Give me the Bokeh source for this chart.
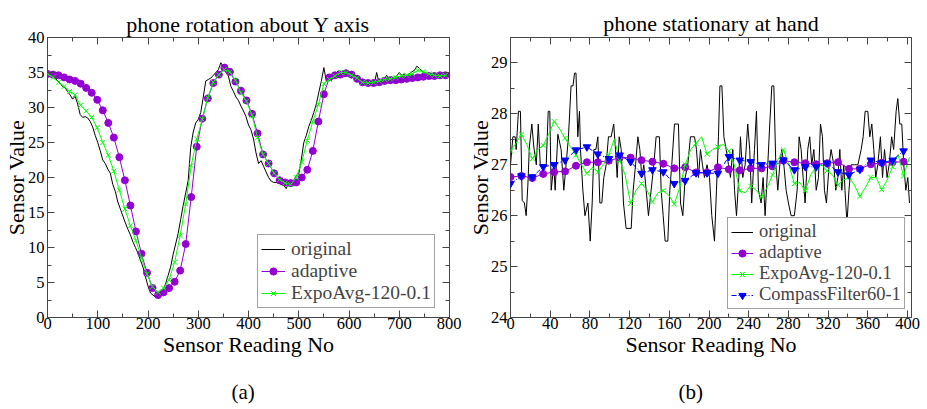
from bokeh.plotting import figure
from bokeh.layouts import row
from bokeh.models import (LinearAxis, SingleIntervalTicker, Range1d, Legend, LegendItem,
                          Title, CustomJSTickFormatter)
from bokeh.embed import file_html
from bokeh.resources import INLINE

FONT = "Liberation Serif"

# ---------------- panel (a): phone rotation about Y axis ----------------
a_orig_x = [0, 5, 10, 15, 20, 25, 30, 35, 40, 45, 50, 55, 60, 65, 70, 75, 80, 85, 90, 95,
            100, 105, 110, 115, 120, 125, 130, 135, 140, 145, 150, 155, 160, 165, 170, 175, 180, 185, 190, 195,
            200, 205, 210, 215, 220, 225, 230, 235, 240, 245, 250, 255, 260, 265, 270, 275, 280, 285, 290, 295,
            300, 305, 310, 315, 320, 325, 330, 335, 340, 345, 350, 355, 360, 365, 370, 375, 380, 385, 390, 395,
            400, 405, 410, 415, 420, 425, 430, 435, 440, 445, 450, 455, 460, 465, 470, 475, 480, 485, 490, 495,
            500, 505, 510, 515, 520, 525, 530, 535, 540, 545, 550, 555, 560, 565, 570, 575, 580, 585, 590, 595,
            600, 605, 610, 615, 620, 625, 630, 635, 640, 645, 650, 655, 660, 665, 670, 675, 680, 685, 690, 695,
            700, 705, 710, 715, 720, 725, 730, 735, 740, 745, 750, 755, 760, 765, 770, 775, 780, 785, 790, 795, 800]
a_orig_y = [35.0, 34.9, 34.8, 34.3, 33.8, 33.5, 33.0, 32.8, 32.3, 31.8, 31.2, 31.6, 30.5, 29.0, 28.6, 28.7, 28.5, 28.0, 27.2, 26.0,
            25.0, 23.8, 22.5, 22.0, 21.2, 20.6, 19.0, 18.0, 16.5, 15.5, 14.5, 13.5, 12.6, 11.8, 10.8, 10.0, 9.2, 8.2, 7.2, 5.8,
            4.5, 3.5, 3.2, 2.9, 3.2, 3.5, 4.0, 4.8, 6.0, 7.2, 9.0, 10.5, 12.0, 14.0, 16.0, 17.8, 19.6, 24.3, 26.5, 27.8,
            28.3, 29.3, 31.5, 33.8, 34.0, 34.2, 34.6, 35.0, 35.4, 36.4, 35.8, 35.0, 34.5, 33.0, 32.3, 31.5, 31.0, 30.2, 29.5, 28.7,
            27.5, 26.8, 25.5, 23.5, 22.0, 22.4, 21.6, 20.8, 20.0, 19.5, 19.3, 19.3, 19.2, 19.0, 18.9, 18.4, 19.3, 19.1, 19.5, 20.3,
            20.5, 22.5, 25.0, 26.0, 27.3, 28.2, 29.3, 30.5, 32.2, 33.8, 35.7, 33.7, 34.0, 34.5, 34.3, 35.0, 35.3, 34.8, 35.2, 34.6,
            34.8, 34.2, 34.5, 34.0, 33.8, 33.5, 33.4, 33.3, 33.5, 33.3, 33.2, 35.0, 33.5, 33.8, 34.0, 34.6, 34.1, 34.4, 34.0, 34.5,
            35.0, 34.6, 34.8, 34.4, 34.8, 35.1, 35.3, 35.9, 35.6, 35.2, 35.0, 34.7, 34.4, 34.2, 34.5, 34.1, 34.8, 34.4, 34.7, 34.6, 35.0]

a_filt_x = [0, 11, 22, 33, 44, 55, 66, 77, 88, 99, 110, 121, 132, 143, 154, 165, 176, 187, 198, 209,
            220, 231, 242, 253, 264, 275, 286, 297, 308, 319, 330, 341, 352, 363, 374, 385, 396, 407, 418, 429,
            440, 451, 462, 473, 484, 495, 506, 517, 528, 539, 550, 561, 572, 583, 594, 605, 616, 627, 638, 649,
            660, 671, 682, 693, 704, 715, 726, 737, 748, 759, 770, 781, 792]
a_adaptive = [34.8, 34.7, 34.6, 34.3, 34.0, 33.8, 33.4, 32.8, 32.1, 31.1, 29.6, 27.8, 25.7, 22.9, 19.6, 16.0, 12.3, 9.1, 6.4, 4.2,
              3.2, 3.6, 4.2, 5.1, 6.7, 10.5, 17.2, 24.4, 28.4, 31.3, 33.5, 34.7, 35.7, 35.1, 33.7, 32.4, 31.0, 29.1, 26.3, 23.3,
              22.0, 20.6, 19.6, 19.3, 19.2, 19.3, 20.0, 21.1, 23.8, 28.0, 31.9, 34.3, 34.6, 34.7, 34.9, 34.7, 34.1, 33.6, 33.5, 33.5,
              33.6, 33.8, 33.9, 33.9, 34.0, 34.1, 34.2, 34.3, 34.4, 34.5, 34.5, 34.6, 34.6]
a_expo = [34.8, 34.3, 33.6, 33.0, 32.3, 31.8, 30.3, 29.5, 28.6, 27.1, 25.0, 23.2, 20.9, 18.2, 15.5, 13.1, 11.0, 8.5, 6.2, 4.4,
          3.6, 4.2, 5.4, 7.9, 11.7, 16.2, 21.7, 25.5, 28.3, 31.4, 33.6, 34.7, 35.4, 35.1, 33.9, 32.1, 30.9, 28.9, 25.7, 23.3,
          22.0, 20.6, 19.7, 19.2, 19.0, 20.0, 22.2, 25.3, 28.0, 30.4, 33.4, 34.0, 34.5, 35.0, 35.0, 34.6, 34.2, 33.6, 33.5, 33.6,
          33.8, 34.0, 34.1, 34.3, 34.5, 34.6, 34.8, 35.3, 35.1, 34.8, 34.6, 34.5, 34.6]

# ---------------- panel (b): phone stationary at hand ----------------
b_orig_x = [0, 2.4, 4.7, 5.7, 8, 10, 11.8, 14, 15.8, 17.5, 19, 21.5, 23.5, 26, 28, 30, 32.5, 36, 38, 39.6,
            41, 43.6, 45, 47.7, 51, 53.7, 56, 58.4, 61, 63, 64.5, 66, 67.8, 69.5, 70.5, 72.9, 75, 78, 80.3, 82.3,
            84, 86, 88, 90, 92, 94, 96.4, 98.7, 101.4, 104, 105.8, 107.5, 109.5, 111.5, 113.8, 116.5, 121.6, 123.6, 126, 128.3,
            130.3, 132.3, 134.3, 136.7, 139, 141.7, 144.4, 146.7, 150, 151.8, 153.8, 155.8, 158.5, 160.5, 162.5, 165.2, 169.2, 171.3, 173.6, 176,
            178.6, 181.3, 185.4, 187.4, 189.4, 191.4, 193.4, 195.4, 198, 200.5, 202.8, 205.5, 207.5, 209.5, 211, 213, 215, 217.3, 219.6, 221.6,
            224, 225.7, 227.7, 230, 231.7, 234, 236.4, 239, 241, 243, 245.8, 247.8, 249.8, 252.5, 254.5, 256.5, 259.2, 261.2, 263.3, 265.3,
            267.3, 269.3, 271.3, 273.3, 275.4, 277.7, 280, 282.7, 286, 288.8, 290.8, 292.8, 294.8, 296.8, 299.5, 301.5, 303.5, 305.6, 308, 310.3,
            312.3, 314.3, 316.3, 318.3, 321, 323, 325.7, 327.7, 329.8, 331.8, 333.8, 335.8, 337, 339, 341, 343.2, 346.5, 350, 353.3, 355.3,
            357.3, 360, 362, 364, 366, 368, 370, 372.7, 374.8, 376.8, 379.4, 381.5, 384, 386, 388.5, 390.2, 392.2, 394.2, 396.2, 398.3,
            400.3, 402]
b_orig_y = [27.0, 27.55, 27.55, 27.3, 28.05, 28.05, 26.3, 26.25, 26.0, 26.6, 27.35, 27.8, 27.35, 27.0, 27.8, 27.0, 27.0, 27.0, 28.05, 28.05,
            26.5, 27.0, 26.5, 27.6, 27.3, 26.5, 27.0, 27.55, 28.55, 28.55, 28.8, 28.8, 27.55, 28.05, 27.3, 26.5, 26.0, 26.25, 25.5, 26.25,
            27.3, 27.3, 27.55, 26.25, 26.25, 26.75, 27.0, 27.55, 27.55, 27.8, 27.3, 26.75, 27.55, 27.3, 26.25, 25.75, 25.75, 26.5, 27.0, 27.55,
            27.3, 26.75, 27.0, 26.5, 26.0, 26.5, 27.0, 27.55, 27.55, 26.5, 26.0, 25.5, 25.5, 26.5, 27.0, 27.8, 27.8, 26.25, 26.0, 26.75,
            27.0, 27.55, 27.55, 27.3, 26.75, 27.3, 27.0, 26.75, 27.0, 26.75, 26.0, 25.5, 26.5, 27.55, 28.55, 28.55, 27.55, 27.3, 27.0, 26.75,
            27.3, 26.5, 26.0, 26.75, 27.55, 26.75, 27.0, 27.8, 27.3, 26.25, 27.3, 28.05, 26.5, 26.25, 26.75, 26.0, 27.0, 27.8, 28.55, 28.55,
            27.0, 26.5, 27.0, 27.3, 27.0, 26.5, 26.25, 26.0, 26.0, 26.5, 27.55, 27.3, 26.75, 26.25, 27.3, 27.55, 27.0, 27.3, 26.5, 26.75,
            27.8, 27.55, 26.5, 26.25, 27.0, 27.3, 27.0, 26.5, 26.75, 27.3, 26.5, 27.0, 26.5, 25.85, 26.5, 27.0, 27.0, 27.0, 27.3, 27.55,
            28.05, 28.05, 27.55, 27.8, 27.3, 26.75, 27.0, 27.55, 26.75, 27.3, 26.75, 27.0, 27.55, 27.3, 28.05, 28.3, 27.8, 27.8, 27.0, 26.5,
            26.75, 26.25]

b_filt_x = [0, 11, 22, 33, 44, 55, 66, 77, 88, 99, 110, 121, 132, 143, 154, 165, 176, 187, 198, 209,
            220, 231, 242, 253, 264, 275, 286, 297, 308, 319, 330, 341, 352, 363, 374, 385, 396]
b_adaptive = [26.76, 26.78, 26.74, 26.82, 26.86, 26.87, 26.98, 27.05, 27.05, 27.08, 27.14, 27.14, 27.09, 27.06, 27.02, 26.93, 26.95, 26.85, 26.85, 26.95,
              26.91, 26.89, 26.93, 26.93, 26.97, 27.08, 27.05, 27.03, 27.01, 27.03, 27.05, 26.92, 26.92, 27.01, 27.04, 27.05, 27.06]
b_compass = [26.63, 26.78, 26.76, 26.96, 27.0, 27.09, 27.29, 27.35, 27.21, 27.12, 27.19, 27.06, 26.83, 26.9, 26.86, 26.63, 26.69, 26.84, 26.84, 26.83,
             27.16, 27.09, 27.06, 27.0, 27.03, 27.09, 26.9, 26.96, 26.96, 27.03, 26.86, 26.8, 26.91, 27.09, 27.04, 27.09, 27.27]
# ExpoAvg line (markers on every other point)
b_expo_x = [0, 5.5, 11, 16.5, 22, 27.5, 33, 38.5, 44, 49.5, 55, 60.5, 66, 71.5, 77, 82.5, 88, 93.5, 99, 104.5,
            110, 115.5, 121, 126.5, 132, 137.5, 143, 148.5, 154, 159.5, 165, 170.5, 176, 181.5, 187, 192.5, 198, 203.5, 209, 214.5,
            220, 225.5, 231, 236.5, 242, 247.5, 253, 258.5, 264, 269.5, 275, 280.5, 286, 291.5, 297, 302.5, 308, 313.5, 319, 324.5,
            330, 335.5, 341, 346.5, 352, 357.5, 363, 368.5, 374, 379.5, 385, 390.5, 396, 402]
b_expo = [27.27, 27.42, 27.6, 27.4, 27.12, 27.3, 27.38, 27.6, 27.85, 27.7, 27.52, 27.35, 27.19, 27.0, 26.83, 26.95, 26.86, 27.0, 27.19, 27.5,
          27.09, 26.8, 26.24, 26.5, 26.63, 26.5, 26.27, 26.45, 26.49, 26.4, 26.23, 26.55, 27.0, 27.3, 27.42, 27.55, 27.21, 27.3, 27.35, 27.4,
          27.27, 27.0, 26.49, 26.45, 26.58, 26.5, 26.37, 26.55, 26.8, 27.1, 27.29, 27.0, 26.63, 26.65, 26.49, 26.8, 26.96, 27.0, 26.88, 26.8,
          26.6, 26.7, 26.76, 26.6, 26.38, 26.55, 26.75, 26.75, 26.51, 26.7, 26.96, 27.2, 26.78, 27.15]

labels_a = ["original", "adaptive", "ExpoAvg-120-0.1"]
labels_b = ["original", "adaptive", "ExpoAvg-120-0.1", "CompassFilter60-1"]
titles = ["phone rotation about Y axis", "phone stationary at hand"]
panel_tags = ["(a)", "(b)"]

VIOLET = "#9400d3"
GREEN = "#00ff00"
BLUE = "#0000ff"
FRAME = "#444444"


def style_axes(p, xint, yint):
    p.xgrid.visible = False
    p.ygrid.visible = False
    p.outline_line_color = FRAME
    p.outline_line_width = 1
    p.background_fill_color = "white"
    p.border_fill_color = "white"
    for ax in (p.xaxis[0], p.yaxis[0]):
        ax.axis_line_color = None
        ax.major_tick_in = 7
        ax.major_tick_out = 0
        ax.minor_tick_in = 4
        ax.minor_tick_out = 0
        ax.major_tick_line_color = FRAME
        ax.minor_tick_line_color = FRAME
        ax.major_label_text_font = FONT
        ax.major_label_text_font_size = "16.5px"
        ax.major_label_text_color = "black"
        ax.axis_label_text_font = FONT
        ax.axis_label_text_font_size = "22px"
        ax.axis_label_text_font_style = "normal"
        ax.axis_label_text_color = "black"
    p.xaxis[0].ticker = SingleIntervalTicker(interval=xint, num_minor_ticks=2)
    p.yaxis[0].ticker = SingleIntervalTicker(interval=yint, num_minor_ticks=2)
    p.xaxis[0].axis_label = "Sensor Reading No"
    p.yaxis[0].axis_label = "Sensor Value"
    p.xaxis[0].major_label_standoff = 0
    p.xaxis[0].axis_label_standoff = 0
    p.xaxis[0].axis_label_text_line_height = 0.5
    for place, interval in (("above", xint), ("right", yint)):
        ax = LinearAxis(ticker=SingleIntervalTicker(interval=interval, num_minor_ticks=2),
                        formatter=CustomJSTickFormatter(code="return ''"),
                        axis_line_color=None, major_tick_in=7, major_tick_out=0,
                        minor_tick_in=4, minor_tick_out=0,
                        major_tick_line_color=FRAME, minor_tick_line_color=FRAME,
                        major_label_text_font_size="1px", major_label_standoff=0)
        p.add_layout(ax, place)


def add_titles(p, xint, title, tag, title_standoff, tag_offset, gap, tag_standoff):
    p.add_layout(Title(text=title, align="center", text_font=FONT, text_font_size="22px",
                       text_font_style="normal", text_color="black", standoff=title_standoff), "above")
    # invisible spacer between the x axis and the panel tag
    spacer = LinearAxis(ticker=SingleIntervalTicker(interval=xint, num_minor_ticks=0),
                        formatter=CustomJSTickFormatter(code="return ''"),
                        axis_line_color=None, major_tick_in=0, major_tick_out=gap,
                        minor_tick_in=0, minor_tick_out=0,
                        major_tick_line_color=None, minor_tick_line_color=None,
                        major_label_text_font_size="1px", major_label_standoff=0)
    p.add_layout(spacer, "below")
    p.add_layout(Title(text=tag, align="left", offset=tag_offset, text_font=FONT, text_font_size="21px",
                       text_font_style="normal", text_color="black", standoff=tag_standoff), "below")


def make_legend(items, loc, fsize, gw):
    lg = Legend(items=items, location=loc)
    lg.label_text_font = FONT
    lg.label_text_font_size = fsize
    lg.glyph_width = gw
    lg.glyph_height = 18
    lg.label_height = 18
    lg.label_standoff = 6
    lg.spacing = 0
    lg.padding = 3
    lg.margin = 0
    lg.border_line_color = FRAME
    lg.border_line_width = 1
    lg.background_fill_alpha = 1
    return lg


# ---------------- figure (a) ----------------
pa = figure(frame_width=402, frame_height=280, x_range=Range1d(0, 800), y_range=Range1d(0, 40),
            output_backend="svg", toolbar_location=None,
            min_border_left=46, min_border_right=12, min_border_top=37, min_border_bottom=0)
style_axes(pa, 100, 5)
pa.yaxis[0].major_label_standoff = 3
pa.yaxis[0].axis_label_standoff = -4
add_titles(pa, 100, titles[0], panel_tags[0], 1, 184, 17, 2)

ra0 = pa.line(a_orig_x, a_orig_y, line_color="black", line_width=1)
ra1 = pa.line(a_filt_x, a_adaptive, line_color=VIOLET, line_width=1)
ra1m = pa.scatter(a_filt_x, a_adaptive, marker="circle", size=7, fill_color=VIOLET, line_color=VIOLET)
ra2 = pa.line(a_filt_x, a_expo, line_color=GREEN, line_width=1)
ra2m = pa.scatter(a_filt_x, a_expo, marker="x", size=7, line_color=GREEN, line_width=1)

pa.add_layout(make_legend([LegendItem(label=labels_a[0], renderers=[ra0]),
                           LegendItem(label=labels_a[1], renderers=[ra1, ra1m]),
                           LegendItem(label=labels_a[2], renderers=[ra2, ra2m])],
                          (210, 9), "19.5px", 24))

# ---------------- figure (b) ----------------
pb = figure(frame_width=401, frame_height=280, x_range=Range1d(0, 404), y_range=Range1d(24, 29.5),
            output_backend="svg", toolbar_location=None,
            min_border_left=49, min_border_right=17, min_border_top=34, min_border_bottom=0)
style_axes(pb, 40, 1)
pb.yaxis[0].major_label_standoff = 3
pb.yaxis[0].axis_label_standoff = -5
add_titles(pb, 40, titles[1], panel_tags[1], 4, 168, 14, 8)

rb0 = pb.line(b_orig_x, b_orig_y, line_color="black", line_width=1)
rb1 = pb.line(b_filt_x, b_adaptive, line_color=VIOLET, line_width=1)
rb1m = pb.scatter(b_filt_x, b_adaptive, marker="circle", size=7, fill_color=VIOLET, line_color=VIOLET)
rb2 = pb.line(b_expo_x, b_expo, line_color=GREEN, line_width=1)
rb2m = pb.scatter(b_expo_x[:-1:2], b_expo[:-1:2], marker="x", size=7, line_color=GREEN, line_width=1)
rb3 = pb.line(b_filt_x, b_compass, line_color=BLUE, line_width=1, line_dash="5 2 1 2")
rb3m = pb.scatter(b_filt_x, b_compass, marker="inverted_triangle", size=7.5, fill_color=BLUE, line_color=BLUE)

pb.add_layout(make_legend([LegendItem(label=labels_b[0], renderers=[rb0]),
                           LegendItem(label=labels_b[1], renderers=[rb1, rb1m]),
                           LegendItem(label=labels_b[2], renderers=[rb2, rb2m]),
                           LegendItem(label=labels_b[3], renderers=[rb3, rb3m])],
                          (217, 8), "18.5px", 22))

layout = row(pa, pb)
open("out.html", "w").write(file_html(layout, INLINE))
